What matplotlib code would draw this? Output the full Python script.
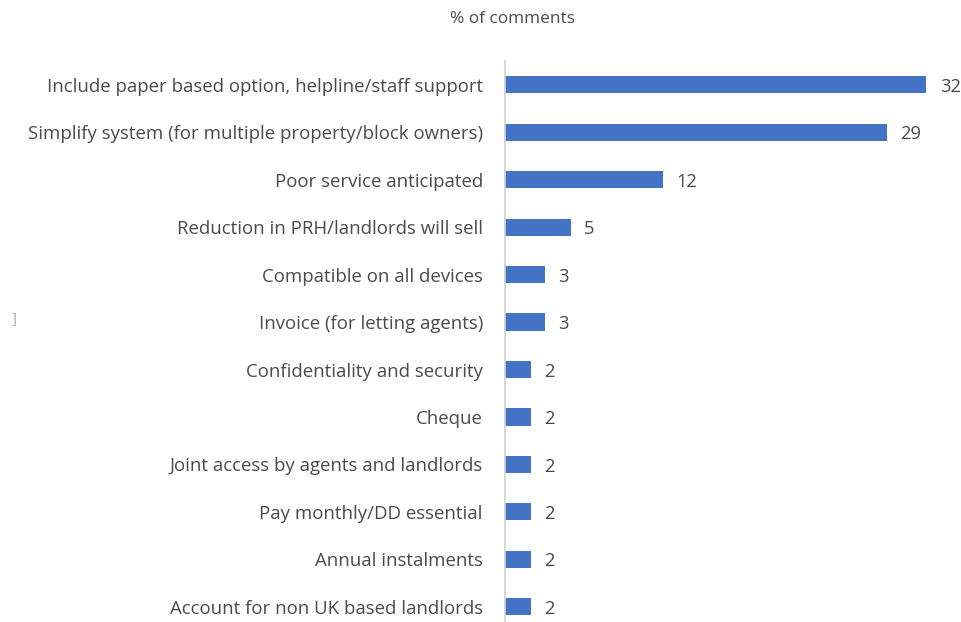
import matplotlib.pyplot as plt

# categories top to bottom and % of comments
categories = [
    "Include paper based option, helpline/staff support",
    "Simplify system (for multiple property/block owners)",
    "Poor service anticipated",
    "Reduction in PRH/landlords will sell",
    "Compatible on all devices",
    "Invoice (for letting agents)",
    "Confidentiality and security",
    "Cheque",
    "Joint access by agents and landlords",
    "Pay monthly/DD essential",
    "Annual instalments",
    "Account for non UK based landlords",
]
values = [32, 29, 12, 5, 3, 3, 2, 2, 2, 2, 2, 2]

plt.rcParams['font.family'] = ['Open Sans', 'DejaVu Sans']
text_col = '#4a4a4a'

fig = plt.figure(figsize=(9.62, 6.22), dpi=100)
ax = fig.add_axes([505 / 962, 0, 457 / 962, 1 - 61 / 622])

y = list(range(len(categories)))
ax.barh(y, values, height=0.36, color='#4472C4')
ax.set_xlim(0, 34.7)
ax.set_ylim(11.32, -0.5)

for yi, v in zip(y, values):
    ax.annotate(str(v), (v, yi), xytext=(9.5, -1.5), textcoords='offset points',
                va='center', ha='left', fontsize=13.2, color=text_col)

ax.set_yticks(y)
ax.set_yticklabels(categories, fontsize=13.4, color=text_col)
ax.tick_params(axis='y', length=0, pad=16)
ax.set_xticks([])
for s in ['top', 'right', 'bottom']:
    ax.spines[s].set_visible(False)
ax.spines['left'].set_color('#d0d0d0')
ax.spines['left'].set_linewidth(1.2)

fig.text(513 / 962, 1 - 19 / 622, "% of comments", ha='center', va='center',
         fontsize=12.4, color=text_col)
fig.text(14 / 962, 1 - 320 / 622, "]", ha='center', va='center',
         fontsize=11, color='#b0b0b0')

fig.savefig('out.png', dpi=100)
